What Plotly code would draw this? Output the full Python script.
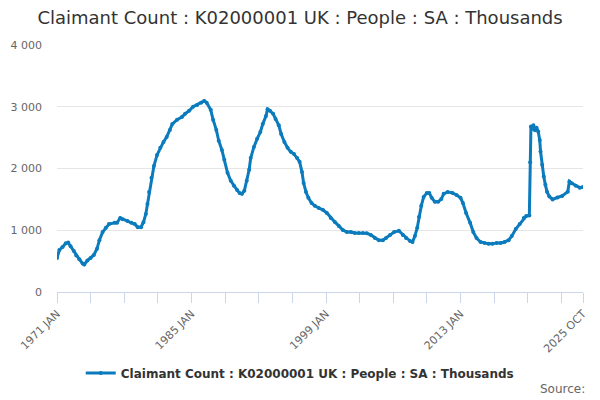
import plotly.graph_objects as go

# values (thousands, seasonally adjusted)
months = [
    "1971-01", "1971-04", "1971-08", "1971-12", "1972-03", "1972-06", "1972-10",
    "1973-01", "1973-05", "1973-09", "1973-11", "1974-03", "1974-07", "1974-11",
    "1975-03", "1975-06", "1975-10", "1976-02", "1976-06", "1977-01", "1977-04",
    "1977-08", "1977-11", "1978-05", "1978-10", "1979-02", "1979-06", "1979-10",
    "1980-01", "1980-04", "1980-06", "1980-08", "1980-11", "1981-02", "1981-06",
    "1981-10", "1982-02", "1982-06", "1982-10", "1983-01", "1983-07", "1984-01",
    "1984-05", "1984-10", "1985-03", "1985-08", "1986-01", "1986-05", "1986-08",
    "1987-01", "1987-04", "1987-08", "1987-11", "1988-03", "1988-06", "1988-10",
    "1989-02", "1989-06", "1989-10", "1990-01", "1990-04", "1990-07", "1990-10",
    "1991-01", "1991-03", "1991-07", "1991-11", "1992-03", "1992-06", "1992-10",
    "1992-12", "1993-03", "1993-07", "1993-10", "1994-02", "1994-05", "1994-09",
    "1995-01", "1995-05", "1995-09", "1996-01", "1996-04", "1996-07", "1996-09",
    "1996-12", "1997-03", "1997-07", "1997-11", "1998-04", "1998-09", "1999-02",
    "1999-07", "1999-12", "2000-05", "2000-10", "2001-03", "2001-08", "2002-01",
    "2002-06", "2002-11", "2003-04", "2003-09", "2004-02", "2004-07", "2004-12",
    "2005-04", "2005-09", "2006-02", "2006-08", "2007-01", "2007-05", "2007-10",
    "2008-01", "2008-04", "2008-07", "2008-09", "2008-12", "2009-03", "2009-07",
    "2009-10", "2010-01", "2010-05", "2010-09", "2011-01", "2011-04", "2011-09",
    "2012-03", "2012-08", "2013-01", "2013-04", "2013-08", "2014-01", "2014-05",
    "2014-09", "2015-02", "2015-07", "2015-12", "2016-05", "2016-10", "2017-03",
    "2017-08", "2018-01", "2018-05", "2018-10", "2019-03", "2019-08", "2019-11",
    "2020-03", "2020-04", "2020-05", "2020-06", "2020-08", "2020-10", "2020-12",
    "2021-02", "2021-04", "2021-05", "2021-07", "2021-09", "2021-11", "2022-01",
    "2022-04", "2022-08", "2023-02", "2023-08", "2024-03", "2024-05", "2024-08",
    "2025-01", "2025-06", "2025-10",
]
claimants = [
    550, 680, 730, 790, 800, 740, 665,
    590, 530, 460, 445, 510, 550, 600,
    700, 840, 970, 1040, 1100, 1120, 1120,
    1200, 1180, 1150, 1120, 1100, 1050, 1050,
    1130, 1265, 1425, 1620, 1850, 2040, 2220,
    2335, 2430, 2510, 2625, 2720, 2790, 2835,
    2885, 2935, 3000, 3030, 3065, 3095, 3065,
    2950, 2790, 2625, 2450, 2300, 2140, 1930,
    1800, 1720, 1650, 1605, 1590, 1640, 1800,
    1980, 2170, 2350, 2480, 2590, 2720, 2850,
    2960, 2935, 2885, 2800, 2700, 2560, 2430,
    2335, 2270, 2235, 2170, 2110, 1945, 1765,
    1620, 1525, 1440, 1395, 1360, 1330, 1280,
    1200, 1135, 1070, 1005, 970, 970, 955,
    955, 955, 950, 925, 875, 840, 840,
    875, 925, 970, 990, 925, 875, 825,
    810, 905, 1040, 1215, 1395, 1540, 1605,
    1605, 1525, 1460, 1460, 1505, 1590, 1620,
    1605, 1570, 1525, 1440, 1280, 1120, 970,
    875, 810, 795, 780, 780, 795, 795,
    810, 840, 905, 1020, 1100, 1200, 1230,
    1240, 2100, 2680, 2640, 2700, 2620, 2660,
    2600, 2460, 2275, 2060, 1870, 1735, 1625,
    1545, 1500, 1530, 1555, 1625, 1790, 1760,
    1720, 1690, 1700,
]

tick_months = ["1971-01", "1974-07", "1978-01", "1981-07", "1985-01", "1988-07",
               "1992-01", "1995-07", "1999-01", "2002-07", "2006-01", "2009-07",
               "2013-01", "2016-07", "2020-01", "2023-07", "2025-10"]
tick_labels = ["1971 JAN", "", "", "", "1985 JAN", "", "", "", "1999 JAN",
               "", "", "", "2013 JAN", "", "", "", "2025 OCT"]

series_name = "Claimant Count : K02000001 UK : People : SA : Thousands"

fig = go.Figure()
fig.add_trace(go.Scatter(x=months, y=claimants, name=series_name,
                         mode="lines+markers",
                         line=dict(color="#0b7bbd", width=3),
                         marker=dict(color="#0b7bbd", size=4)))

# the page body adds 8px, so everything is laid out 8px up and left
fig.update_layout(
    width=600, height=400,
    margin=dict(l=49, r=25, t=37, b=116, autoexpand=False),
    plot_bgcolor="white", paper_bgcolor="white",
    font=dict(family="DejaVu Sans", color="#666666", size=11),
    separators=". ",
    title=dict(text=series_name, x=0.4867, xanchor="center", y=0.975, yanchor="middle",
               font=dict(size=18, color="#333333")),
    showlegend=True,
    legend=dict(orientation="h", x=0.4615, xanchor="center", y=-0.328, yanchor="middle",
                itemwidth=30,
                font=dict(size=12, color="#333333", weight="bold")),
    annotations=[dict(text="Source:", xref="paper", yref="paper", x=1.0085, y=-0.393,
                      xanchor="right", yanchor="middle", showarrow=False,
                      font=dict(size=12, color="#666666"))],
)

fig.update_xaxes(type="date", range=["1971-01-01", "2025-10-01"],
                 tickvals=tick_months, ticktext=tick_labels, tickangle=-45,
                 ticks="outside", ticklen=10, tickcolor="#ccd6eb",
                 showline=True, linecolor="#ccd6eb", showgrid=False,
                 automargin=False,
                 tickfont=dict(size=11, color="#666666"))
fig.update_yaxes(range=[0, 4000], tickvals=[0, 1000, 2000, 3000, 4000],
                 tickformat=",d", showgrid=True, gridcolor="#e6e6e6",
                 zeroline=False, showline=False, ticklabelstandoff=14,
                 automargin=False,
                 tickfont=dict(size=11, color="#666666"))

fig.write_html("out.html")
